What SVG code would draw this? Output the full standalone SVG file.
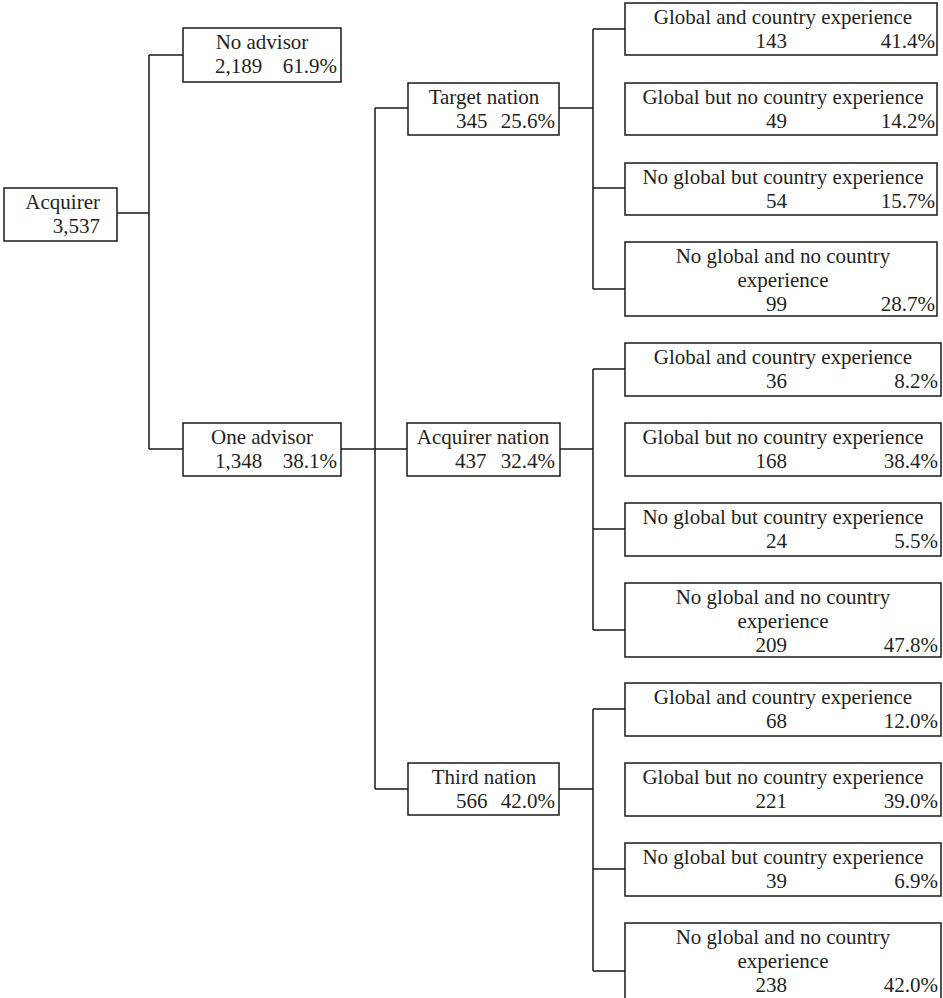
<svg xmlns="http://www.w3.org/2000/svg" width="943" height="998" viewBox="0 0 943 998">
<style>
.box{fill:#fff;stroke:#1a1a1a;stroke-width:1.5}
.ln{fill:none;stroke:#1a1a1a;stroke-width:1.5}
text{font-family:"Liberation Serif","Times New Roman",serif;font-size:21px;fill:#231f20}
.c{text-anchor:middle}
.e{text-anchor:end}
</style>
<rect width="943" height="998" fill="#fff"/>
<g id="connectors">
<path class="ln" d="M117,213H149M149,55V449M149,55H183M149,449H183"/>
<path class="ln" d="M341,449H407M375,108V789M375,108H408M375,789H408"/>
<path class="ln" d="M559,108H593M593,29V289M593,29H625M593,188H625M593,289H625"/>
<path class="ln" d="M560,449H593M593,369V630M593,369H625M593,529H625M593,630H625"/>
<path class="ln" d="M559,789H593M593,709V971M593,709H625M593,869H625M593,971H625"/>
</g>
<g id="acquirer">
<rect class="box" x="4" y="188" width="113" height="53"/>
<text class="e" x="100" y="209">Acquirer</text>
<text class="e" x="100" y="233">3,537</text>
</g>
<g id="no-advisor">
<rect class="box" x="183" y="28" width="158" height="54"/>
<text class="c" x="262" y="49">No advisor</text>
<text x="215" y="73">2,189</text><text class="e" x="337" y="73">61.9%</text>
</g>
<g id="one-advisor">
<rect class="box" x="183" y="423" width="158" height="53"/>
<text class="c" x="262" y="444">One advisor</text>
<text x="215" y="468">1,348</text><text class="e" x="337" y="468">38.1%</text>
</g>
<g id="target-nation">
<rect class="box" x="408" y="83" width="151" height="52"/>
<text class="c" x="484" y="104">Target nation</text>
<text x="456" y="128">345</text><text class="e" x="555" y="128">25.6%</text>
</g>
<g id="acquirer-nation">
<rect class="box" x="407" y="423" width="153" height="53"/>
<text class="c" x="483" y="444">Acquirer nation</text>
<text x="455" y="468">437</text><text class="e" x="555" y="468">32.4%</text>
</g>
<g id="third-nation">
<rect class="box" x="408" y="763" width="151" height="52"/>
<text class="c" x="484" y="784">Third nation</text>
<text x="456" y="808">566</text><text class="e" x="555" y="808">42.0%</text>
</g>
<g id="t1">
<rect class="box" x="625" y="3" width="312" height="52"/>
<text class="c" x="783" y="24">Global and country experience</text>
<text class="e" x="787" y="48">143</text><text class="e" x="935" y="48">41.4%</text>
</g>
<g id="t2">
<rect class="box" x="625" y="83" width="312" height="52"/>
<text class="c" x="783" y="104">Global but no country experience</text>
<text class="e" x="787" y="128">49</text><text class="e" x="935" y="128">14.2%</text>
</g>
<g id="t3">
<rect class="box" x="625" y="163" width="312" height="52"/>
<text class="c" x="783" y="184">No global but country experience</text>
<text class="e" x="787" y="208">54</text><text class="e" x="935" y="208">15.7%</text>
</g>
<g id="t4">
<rect class="box" x="625" y="242" width="312" height="74"/>
<text class="c" x="783" y="263">No global and no country</text>
<text class="c" x="783" y="287">experience</text>
<text class="e" x="787" y="311">99</text><text class="e" x="935" y="311">28.7%</text>
</g>
<g id="a1">
<rect class="box" x="625" y="343" width="316" height="53"/>
<text class="c" x="783" y="364">Global and country experience</text>
<text class="e" x="787" y="388">36</text><text class="e" x="938" y="388">8.2%</text>
</g>
<g id="a2">
<rect class="box" x="625" y="423" width="316" height="53"/>
<text class="c" x="783" y="444">Global but no country experience</text>
<text class="e" x="787" y="468">168</text><text class="e" x="938" y="468">38.4%</text>
</g>
<g id="a3">
<rect class="box" x="625" y="503" width="316" height="53"/>
<text class="c" x="783" y="524">No global but country experience</text>
<text class="e" x="787" y="548">24</text><text class="e" x="938" y="548">5.5%</text>
</g>
<g id="a4">
<rect class="box" x="625" y="583" width="316" height="74"/>
<text class="c" x="783" y="604">No global and no country</text>
<text class="c" x="783" y="628">experience</text>
<text class="e" x="787" y="652">209</text><text class="e" x="938" y="652">47.8%</text>
</g>
<g id="n1">
<rect class="box" x="625" y="683" width="316" height="53"/>
<text class="c" x="783" y="704">Global and country experience</text>
<text class="e" x="787" y="728">68</text><text class="e" x="938" y="728">12.0%</text>
</g>
<g id="n2">
<rect class="box" x="625" y="763" width="316" height="53"/>
<text class="c" x="783" y="784">Global but no country experience</text>
<text class="e" x="787" y="808">221</text><text class="e" x="938" y="808">39.0%</text>
</g>
<g id="n3">
<rect class="box" x="625" y="843" width="316" height="53"/>
<text class="c" x="783" y="864">No global but country experience</text>
<text class="e" x="787" y="888">39</text><text class="e" x="938" y="888">6.9%</text>
</g>
<g id="n4">
<rect class="box" x="625" y="923" width="316" height="90"/>
<text class="c" x="783" y="944">No global and no country</text>
<text class="c" x="783" y="968">experience</text>
<text class="e" x="787" y="992">238</text><text class="e" x="938" y="992">42.0%</text>
</g>
</svg>
